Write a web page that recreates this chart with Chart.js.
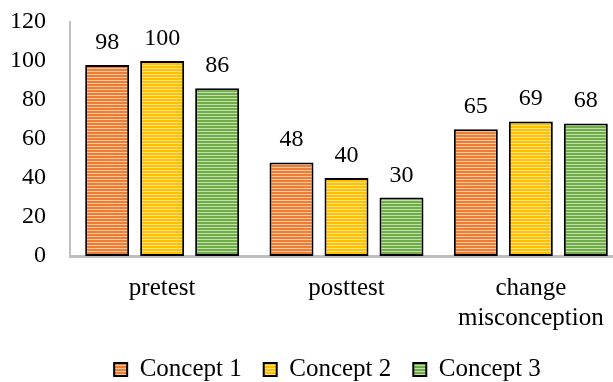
<!DOCTYPE html>
<html>
<head>
<meta charset="utf-8">
<script src="https://cdn.jsdelivr.net/npm/chart.js@4/dist/chart.umd.min.js"></script>
<style>
html,body{margin:0;padding:0;background:#fff;overflow:hidden;}
#wrap{width:613px;height:382px;position:relative;overflow:hidden;}
</style>
</head>
<body>
<div id="wrap"><canvas id="c" width="623" height="382"></canvas></div>
<script>
const categories = ["pretest", "posttest", ["change", "misconception"]];
const concept1 = [98, 48, 65];
const concept2 = [100, 40, 69];
const concept3 = [86, 30, 68];
const seriesNames = ["Concept 1", "Concept 2", "Concept 3"];
const yTicks = [0, 20, 40, 60, 80, 100, 120];

const FONT = "'Liberation Serif', serif";
const FS = 24;
const FT = 25;

function stripes(main, light) {
  const p = document.createElement('canvas');
  p.width = 4; p.height = 3;
  const g = p.getContext('2d');
  g.fillStyle = main; g.fillRect(0, 0, 4, 3);
  g.fillStyle = light; g.fillRect(0, 2, 4, 1);
  return document.getElementById('c').getContext('2d').createPattern(p, 'repeat');
}
const fills = [
  stripes('#ED7D31', '#F8C7A6'),
  stripes('#FFC000', '#FFE38A'),
  stripes('#70AD47', '#C2DFAE')
];

const valueLabels = {
  id: 'valueLabels',
  afterDatasetsDraw(chart) {
    const ctx = chart.ctx;
    ctx.save();
    ctx.font = FS + "px " + FONT;
    ctx.fillStyle = '#000';
    ctx.textAlign = 'center';
    ctx.textBaseline = 'alphabetic';
    chart.data.datasets.forEach((ds, i) => {
      const meta = chart.getDatasetMeta(i);
      meta.data.forEach((el, j) => {
        ctx.fillText(String(ds.data[j]), el.x, el.y - 16);
      });
    });
    ctx.restore();
  }
};

const legendShift = {
  id: 'legendShift',
  afterLayout(chart) {
    const lg = chart.legend;
    if (lg) { lg.left += 16; lg.right += 16; }
  }
};

new Chart(document.getElementById('c'), {
  type: 'bar',
  data: {
    labels: categories,
    datasets: [
      { label: seriesNames[0], data: concept1, backgroundColor: fills[0], borderColor: '#000', borderWidth: 2, borderSkipped: false },
      { label: seriesNames[1], data: concept2, backgroundColor: fills[1], borderColor: '#000', borderWidth: 2, borderSkipped: false },
      { label: seriesNames[2], data: concept3, backgroundColor: fills[2], borderColor: '#000', borderWidth: 2, borderSkipped: false }
    ]
  },
  options: {
    responsive: false,
    animation: false,
    devicePixelRatio: 1,
    layout: { padding: { top: 22, right: 0, left: 0, bottom: -10 } },
    datasets: { bar: { categoryPercentage: 0.895, barPercentage: 0.8 } },
    plugins: {
      legend: {
        position: 'bottom',
        labels: {
          font: { family: FONT, size: FT },
          color: '#000',
          boxWidth: 13, boxHeight: 13,
          padding: 22,
          generateLabels(chart) {
            return chart.data.datasets.map((ds, i) => ({
              text: ds.label, fillStyle: fills[i], strokeStyle: '#000', lineWidth: 2,
              datasetIndex: i, hidden: false
            }));
          }
        }
      },
      tooltip: { enabled: false }
    },
    scales: {
      x: {
        grid: { display: false, drawTicks: false },
        border: { color: '#BFBFBF', width: 3 },
        ticks: { font: { family: FONT, size: FT, lineHeight: 1.2 }, color: '#000', padding: 17, maxRotation: 0, autoSkip: false },
        afterFit(scale) { scale.height = 79; }
      },
      y: {
        min: 0, max: 120,
        afterBuildTicks(scale) { scale.ticks = yTicks.map(v => ({ value: v })); },
        grid: { display: false, drawTicks: false },
        border: { color: '#BFBFBF', width: 2 },
        ticks: { font: { family: FONT, size: FS }, color: '#000', padding: 24 },
        afterFit(scale) { scale.width = 70; scale.paddingTop = 0; scale.paddingBottom = 0; }
      }
    }
  },
  plugins: [valueLabels, legendShift]
});
</script>
</body>
</html>
